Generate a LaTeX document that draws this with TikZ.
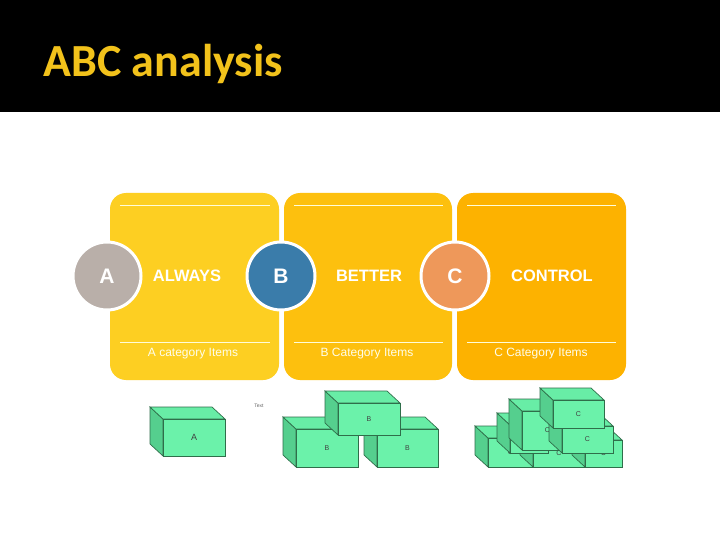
\documentclass[tikz,border=0pt]{standalone}
\usepackage{fontspec}
\setmainfont{Liberation Sans}
\newfontfamily\titlefont{Carlito}
\begin{document}
\begin{tikzpicture}[x=1pt,y=-1pt,
  panel/.style={rounded corners=16pt},
  circ/.style={circle,draw=white,line width=3pt,minimum size=68pt,inner sep=0pt,text=white,font=\bfseries\fontsize{21}{21}\selectfont},
  word/.style={text=white,font=\bfseries\fontsize{16.5}{16.5}\selectfont},
  small/.style={text=white!92!yellow,font=\fontsize{12}{12}\selectfont},
  face/.style={fill=boxf,draw=boxd,line width=0.7pt},
  side/.style={fill=boxs,draw=boxd,line width=0.7pt},
  blabel/.style={font=\fontsize{7}{7}\selectfont,text=black!75}]
\definecolor{titley}{HTML}{F2C21B}
\definecolor{p1}{HTML}{FDCF22}
\definecolor{p2}{HTML}{FDC00E}
\definecolor{p3}{HTML}{FDB200}
\definecolor{ca}{HTML}{B9AFA9}
\definecolor{cb}{HTML}{3A7CAA}
\definecolor{cc}{HTML}{EE985A}
\definecolor{boxf}{HTML}{6BF2AA}
\definecolor{boxs}{HTML}{55CF8E}
\definecolor{boxd}{HTML}{2F6E4A}
\useasboundingbox (0,0) rectangle (720,540);
\fill[white] (0,0) rectangle (720,540);
\fill[black] (0,0) rectangle (720,112);
\node[anchor=west,text=titley,font=\titlefont\bfseries\fontsize{46}{46}\selectfont] (title) at (40,64) {ABC analysis};
% panels
\fill[p1,panel] (110,193) rectangle (279,380);
\fill[p2,panel] (284,193) rectangle (452,380);
\fill[p3,panel] (457,193) rectangle (626,380);
\foreach \a/\b in {120/270,294/443,467/616}{
  \draw[white!85!yellow,line width=0.6pt] (\a,205) -- (\b,205);
  \draw[white!85!yellow,line width=0.6pt] (\a,342) -- (\b,342);}
\node[circ,fill=ca] (A) at (107,276) {A};
\node[circ,fill=cb] (B) at (281,276) {B};
\node[circ,fill=cc] (C) at (455,276) {C};
\node[word] (wa) at (187,276) {ALWAYS};
\node[word] (wb) at (369,276) {BETTER};
\node[word] (wc) at (552,276) {CONTROL};
\node[small] (la) at (193,354) {A category Items};
\node[small] (lb) at (367,354) {B Category Items};
\node[small] (lc) at (541,354) {C Category Items};
\node[font=\fontsize{5}{5}\selectfont,text=black!60] (txt) at (259,406) {Text};
% cube macro
\newcommand\mycube[6]{%
  \draw[side] (#1,#2) -- (#1,#4) -- (#1-13,#4-12) -- (#1-13,#2-12) -- cycle;
  \draw[side,fill=boxf!85!boxs] (#1,#2) -- (#3,#2) -- (#3-13,#2-12) -- (#1-13,#2-12) -- cycle;
  \draw[face] (#1,#2) rectangle (#3,#4);
  \node[blabel] (#6) at ({(#1+#3)/2},{(#2+#4)/2}) {#5};}
\mycube{163}{419}{225}{456}{\small A}{ba}
\mycube{296}{429}{358}{467}{B}{bb1}
\mycube{377}{429}{438}{467}{B}{bb2}
\mycube{338}{403}{400}{435}{B}{bb3}
\mycube{488}{438}{533}{467}{C}{bc1}
\mycube{533}{440}{585}{467}{C}{bc2}
\mycube{585}{440}{622}{467}{C}{bc3}
\mycube{510}{425}{548}{453}{C}{bc4}
\mycube{522}{411}{573}{450}{C}{bc5}
\mycube{562}{426}{613}{453}{C}{bc6}
\mycube{553}{400}{604}{428}{C}{bc7}
\end{tikzpicture}
\end{document}
